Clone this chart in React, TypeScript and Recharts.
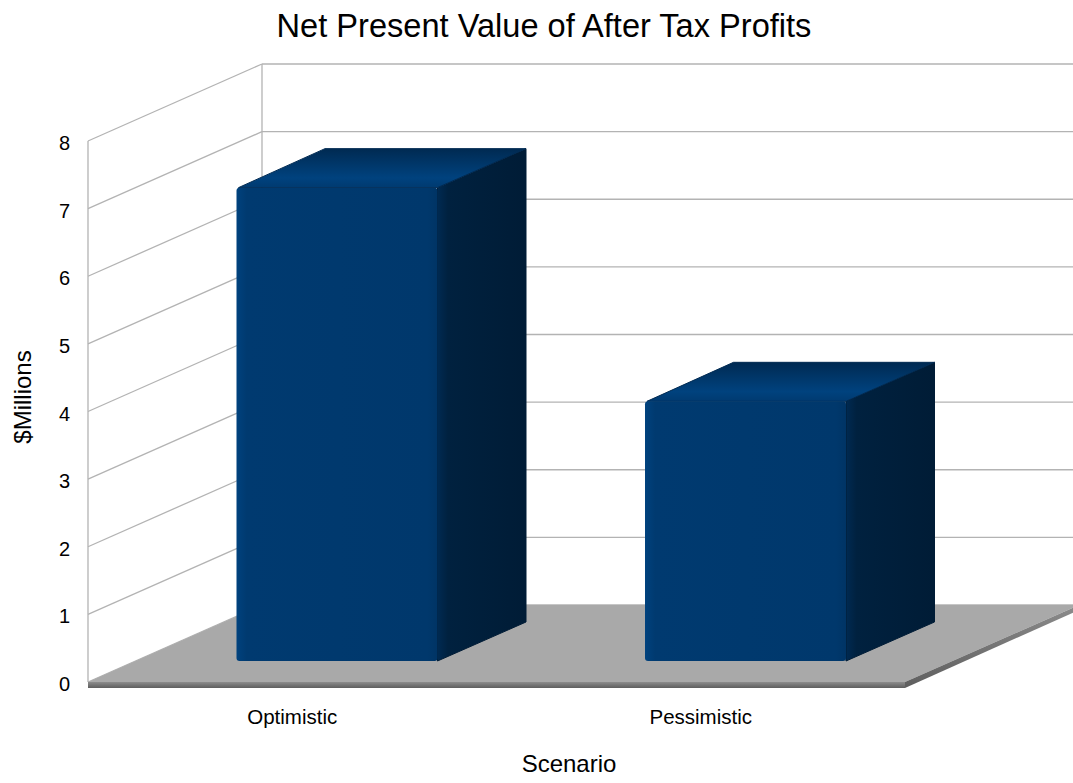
import React from "react";
import {
  BarChart,
  Bar,
  XAxis,
  YAxis,
  CartesianGrid,
  ReferenceArea,
} from "recharts";

const categories = ["Optimistic", "Pessimistic"];
const npvValues = [7.0, 3.84];
const yTicks = [0, 1, 2, 3, 4, 5, 6, 7, 8];

const data = categories.map((name, i) => ({ name, value: npvValues[i] }));

const FONT = "'Liberation Sans', Arial, sans-serif";
const W = 1073;
const H = 783;

// depth of the whole "room" and of the boxes
const DX = 174;
const DY = -77;
const FRONT_DX = 44.5;
const FRONT_DY = -21;
const BOX_DX = 88.5;
const BOX_DY = -39;

const GRID = "#b3b3b3";

function gridLine(props: any) {
  const { x1, y1, key } = props;
  return (
    <g key={key}>
      <line x1={x1} y1={y1} x2={x1 + DX} y2={y1 + DY} stroke={GRID} strokeWidth={1.3} />
      <line x1={x1 + DX} y1={y1 + DY} x2={W + 10} y2={y1 + DY} stroke={GRID} strokeWidth={1.3} />
    </g>
  );
}

function Room(props: any) {
  const { x, y, width, height } = props;
  const x0 = x;
  const x1 = x + width;
  const y0 = y + height;
  return (
    <g>
      <defs>
        <linearGradient id="floorEdge" x1="0" y1="0" x2="0" y2="1">
          <stop offset="0" stopColor="#8c8c8c" />
          <stop offset="1" stopColor="#5e5e5e" />
        </linearGradient>
      </defs>
      <line x1={x0} y1={y} x2={x0} y2={y0} stroke={GRID} strokeWidth={1.3} />
      <line x1={x0 + DX} y1={y + DY} x2={x0 + DX} y2={y0 + DY} stroke={GRID} strokeWidth={1.3} />
      <polygon
        points={`${x0},${y0} ${x1},${y0} ${x1 + DX},${y0 + DY} ${x0 + DX},${y0 + DY}`}
        fill="#a9a9a9"
      />
      <polygon
        points={`${x1},${y0} ${x1 + DX},${y0 + DY} ${x1 + DX},${y0 + DY + 5} ${x1},${y0 + 6}`}
        fill="url(#floorEdge)"
      />
      <rect x={x0} y={y0} width={width} height={6} fill="url(#floorEdge)" />
    </g>
  );
}

function Box3D(props: any) {
  const { x, y, width, height, index } = props;
  const fx = x + FRONT_DX;
  const fy = y + FRONT_DY;
  const w = width;
  const h = height;
  const id = `b${index}`;
  const top = `${fx + 2},${fy} ${fx + BOX_DX},${fy + BOX_DY} ${fx + w + BOX_DX},${fy + BOX_DY} ${fx + w},${fy}`;
  const side = `${fx + w},${fy} ${fx + w + BOX_DX},${fy + BOX_DY} ${fx + w + BOX_DX},${fy + h + BOX_DY} ${fx + w},${fy + h}`;
  return (
    <g>
      <defs>
        <linearGradient id={`${id}top`} x1="0" y1="0" x2="0" y2="1">
          <stop offset="0" stopColor="#002a52" />
          <stop offset="0.75" stopColor="#00427e" />
          <stop offset="1" stopColor="#003a70" />
        </linearGradient>
        <linearGradient id={`${id}side`} x1="0" y1="0" x2="1" y2="0">
          <stop offset="0" stopColor="#002a52" />
          <stop offset="0.12" stopColor="#00213f" />
          <stop offset="1" stopColor="#001c36" />
        </linearGradient>
        <linearGradient id={`${id}front`} x1="0" y1="0" x2="1" y2="0">
          <stop offset="0" stopColor="#00427e" />
          <stop offset="0.05" stopColor="#003a70" />
          <stop offset="0.95" stopColor="#00386c" />
          <stop offset="1" stopColor="#003465" />
        </linearGradient>
      </defs>
      <polygon points={side} fill={`url(#${id}side)`} stroke="#001c36" strokeWidth={1} strokeLinejoin="round" />
      <polygon points={top} fill={`url(#${id}top)`} stroke="#002a52" strokeWidth={1} strokeLinejoin="round" />
      <rect x={fx} y={fy} width={w} height={h} rx={3} fill={`url(#${id}front)`} />
    </g>
  );
}

function YTick(props: any) {
  const { x, y, payload } = props;
  return (
    <text x={x} y={y + 2} dy="0.355em" textAnchor="end" fill="#000" fontSize={20} fontFamily={FONT}>
      {payload.value}
    </text>
  );
}

export default function App() {
  return (
    <div style={{ position: "absolute", left: 0, top: 0, width: W, height: H, fontFamily: FONT }}>
      <BarChart
        width={W}
        height={H}
        data={data}
        margin={{ top: 141, right: 168, bottom: 71, left: 0 }}
      >
        <CartesianGrid vertical={false} horizontal={gridLine} />
        <ReferenceArea y1={0} y2={8} shape={Room} zIndex={-50} />
        <XAxis
          dataKey="name"
          height={30}
          axisLine={false}
          tickLine={false}
          tickMargin={21}
          tick={{ fill: "#000", fontSize: 20.5, fontFamily: FONT }}
        />
        <YAxis
          domain={[0, 8]}
          ticks={yTicks}
          width={88}
          axisLine={false}
          tickLine={false}
          tickMargin={12}
          tick={YTick}
        />
        <Bar dataKey="value" barSize={201} shape={Box3D} isAnimationActive={false} />
      </BarChart>
      <div
        style={{
          position: "absolute",
          left: 44,
          top: 9,
          width: 1000,
          textAlign: "center",
          fontSize: 32.6,
          lineHeight: "33px",
          color: "#000",
        }}
      >
        Net Present Value of After Tax Profits
      </div>
      <div
        style={{
          position: "absolute",
          left: 469,
          top: 752,
          width: 200,
          textAlign: "center",
          fontSize: 24,
          lineHeight: "24px",
          color: "#000",
        }}
      >
        Scenario
      </div>
      <div
        style={{
          position: "absolute",
          left: 22.5 - 70,
          top: 396.5 - 12,
          width: 140,
          textAlign: "center",
          fontSize: 24,
          lineHeight: "24px",
          color: "#000",
          transform: "rotate(-90deg)",
        }}
      >
        $Millions
      </div>
    </div>
  );
}
